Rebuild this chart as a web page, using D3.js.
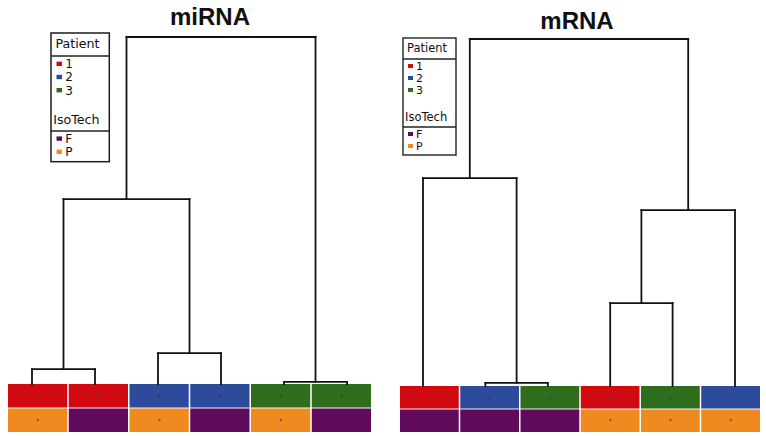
<!DOCTYPE html>
<html>
<head>
<meta charset="utf-8">
<script src="https://cdn.jsdelivr.net/npm/d3@7"></script>
<style>
  body { margin: 0; background: #fff; }
</style>
</head>
<body>
<div class="chart"></div>
<script>
// colour keys
var patientKeys = ["1", "2", "3"];
var patientColors = ["#d10a12", "#2d4b9a", "#2e6d1c"];
var isoKeys = ["F", "P"];
var isoColors = ["#600a5c", "#ee8a20"];

// miRNA samples (left to right) and merges [a, b, height]
var miPatient = ["1", "1", "2", "2", "3", "3"];
var miIso = ["P", "F", "P", "F", "P", "F"];
var miMerges = [[0, 1, 0.043], [2, 3, 0.089], [4, 5, 0.006], [6, 7, 0.533], [9, 8, 1.0]];

// mRNA samples and merges
var mPatient = ["1", "2", "3", "1", "3", "2"];
var mIso = ["F", "F", "F", "P", "P", "P"];
var mMerges = [[1, 2, 0.009], [3, 4, 0.239], [0, 6, 0.599], [7, 5, 0.507], [8, 9, 1.0]];

var patientScale = d3.scaleOrdinal().domain(patientKeys).range(patientColors);
var isoScale = d3.scaleOrdinal().domain(isoKeys).range(isoColors);

var svg = d3.select(".chart").append("svg")
    .attr("width", 766)
    .attr("height", 436);

var drawPanel = function(p) {
  var g = svg.append("g");
  var n = p.patient.length;
  var idx = d3.range(n);

  // title
  g.append("text")
    .attr("x", p.titleX)
    .attr("y", p.titleY)
    .attr("text-anchor", "middle")
    .style("font-family", "Liberation Sans, Arial, sans-serif")
    .style("font-weight", "bold")
    .style("font-size", "24px")
    .style("fill", "#111")
    .text(p.title);

  // colour strip
  var xCell = d3.scaleBand().domain(idx).range(p.cellRange).paddingInner(0.025);
  var yRow = d3.scaleBand().domain(["Patient", "IsoTech"]).range([p.cellTop, 432]).paddingInner(0.04);
  var rows = [
    { key: "Patient", vals: p.patient, color: patientScale },
    { key: "IsoTech", vals: p.iso, color: isoScale }
  ];
  rows.forEach(function(r) {
    g.selectAll(null).data(idx).enter().append("rect")
      .attr("x", function(i) { return xCell(i); })
      .attr("y", yRow(r.key))
      .attr("width", xCell.bandwidth())
      .attr("height", yRow.bandwidth())
      .style("fill", function(i) { return r.color(r.vals[i]); });
    g.selectAll(null).data(idx).enter().append("text")
      .attr("x", function(i) { return xCell(i) + xCell.bandwidth() / 2; })
      .attr("y", yRow(r.key) + yRow.bandwidth() / 2 + 1.5)
      .attr("text-anchor", "middle")
      .style("font-family", "DejaVu Sans, sans-serif")
      .style("font-size", "4px")
      .style("fill", "#2a2a40")
      .text(function(i) { return r.vals[i]; });
  });

  // dendrogram
  var xLeaf = d3.scalePoint().domain(idx).range(p.leafRange);
  var yH = d3.scaleLinear().domain([0, 1]).range([p.cellTop, p.top]);
  var nodes = idx.map(function(i) { return { x: xLeaf(i), h: 0 }; });
  p.merges.forEach(function(m) {
    var a = nodes[m[0]], b = nodes[m[1]];
    var segs = [
      [a.x, yH(a.h), a.x, yH(m[2])],
      [b.x, yH(b.h), b.x, yH(m[2])],
      [a.x, yH(m[2]), b.x, yH(m[2])]
    ];
    g.selectAll(null).data(segs).enter().append("line")
      .attr("x1", function(s) { return s[0]; })
      .attr("y1", function(s) { return s[1]; })
      .attr("x2", function(s) { return s[2]; })
      .attr("y2", function(s) { return s[3]; })
      .attr("stroke", "#111")
      .attr("stroke-width", 1.8)
      .attr("stroke-linecap", "square");
    nodes.push({ x: (a.x + b.x) / 2, h: m[2] });
  });

  // legend
  var L = g.append("g")
    .attr("transform", "translate(" + p.legX + "," + p.legY + ") scale(" + p.legK + ")");
  L.append("rect")
    .attr("x", 0).attr("y", 0)
    .attr("width", 53).attr("height", 117)
    .style("fill", "#fff")
    .style("stroke", "#222")
    .style("stroke-width", 1.4);
  var font = function(t) {
    return t.style("font-family", "DejaVu Sans, sans-serif")
      .style("font-size", "11.5px")
      .style("fill", "#111");
  };
  font(L.append("text").attr("x", 4).attr("y", 14).text("Patient"));
  L.append("line").attr("x1", 0).attr("x2", 53).attr("y1", 21).attr("y2", 21)
    .style("stroke", "#222").style("stroke-width", 1.4);
  var pY = d3.scalePoint().domain(patientKeys).range([32, 56]);
  patientKeys.forEach(function(k) {
    L.append("rect").attr("x", 5).attr("y", pY(k) - 6).attr("width", 5).attr("height", 4)
      .style("fill", patientScale(k));
    font(L.append("text").attr("x", 13).attr("y", pY(k)).text(k)).style("font-size", "11px");
  });
  font(L.append("text").attr("x", 2).attr("y", 83).text("IsoTech"));
  L.append("line").attr("x1", 0).attr("x2", 53).attr("y1", 89).attr("y2", 89)
    .style("stroke", "#222").style("stroke-width", 1.4);
  var iY = d3.scalePoint().domain(isoKeys).range([100, 112]);
  isoKeys.forEach(function(k) {
    L.append("rect").attr("x", 5).attr("y", iY(k) - 6).attr("width", 5).attr("height", 4)
      .style("fill", isoScale(k));
    font(L.append("text").attr("x", 13).attr("y", iY(k)).text(k)).style("font-size", "11px");
  });
};

drawPanel({
  title: "miRNA", titleX: 210, titleY: 25,
  patient: miPatient, iso: miIso, merges: miMerges,
  cellRange: [8, 371], cellTop: 384, leafRange: [32, 347], top: 37,
  legX: 51, legY: 33, legK: 1.1
});

drawPanel({
  title: "mRNA", titleX: 577, titleY: 29,
  patient: mPatient, iso: mIso, merges: mMerges,
  cellRange: [400, 760], cellTop: 386, leafRange: [423, 735], top: 39,
  legX: 403, legY: 38, legK: 1.0
});
</script>
</body>
</html>
